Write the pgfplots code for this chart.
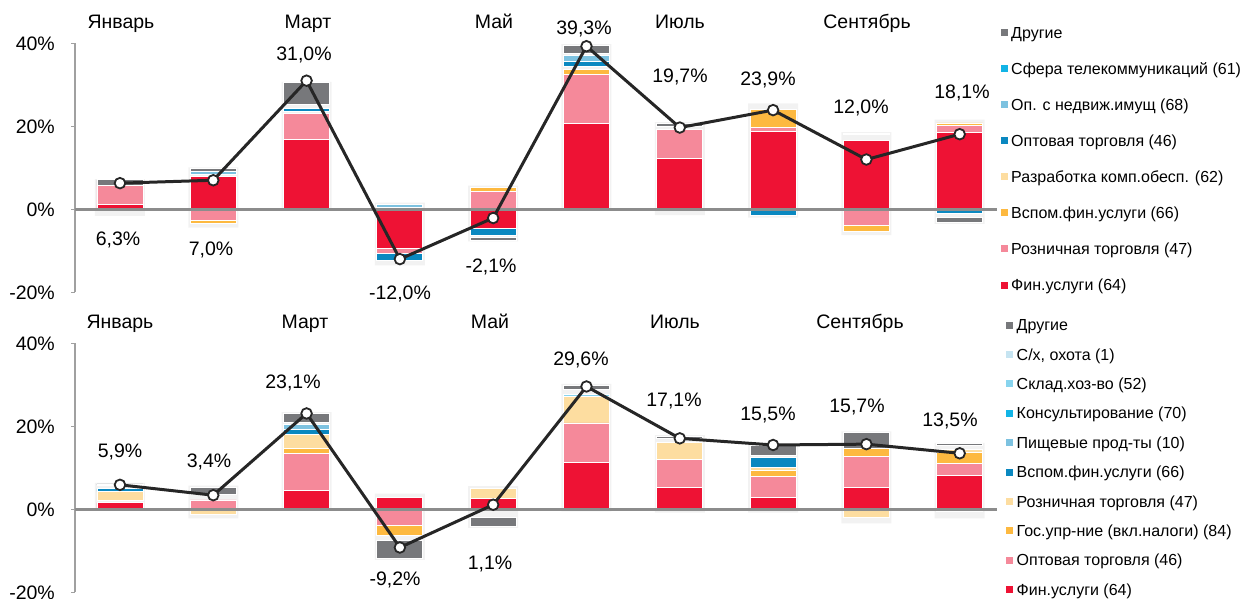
\documentclass[border=0pt]{standalone}
\usepackage{fontspec}
\setmainfont{Liberation Sans}
\usepackage{pgfplots}
\usepackage{pgfplotstable}
\pgfplotsset{compat=1.18}

\definecolor{cFin}{HTML}{EE1234}
\definecolor{cPink}{HTML}{F5899A}
\definecolor{cOrange}{HTML}{FDB940}
\definecolor{cPeach}{HTML}{FDDDA0}
\definecolor{cBlue}{HTML}{0A88C0}
\definecolor{cLBlue}{HTML}{7DC2E0}
\definecolor{cCyan}{HTML}{12B4E6}
\definecolor{cSklad}{HTML}{88D4EE}
\definecolor{cSx}{HTML}{C6E4F1}
\definecolor{cGray}{HTML}{77787B}
\definecolor{cBack}{HTML}{F2F2F2}
\definecolor{cZero}{HTML}{8C8C8C}
\definecolor{cAx}{HTML}{A0A0A0}
\definecolor{cLine}{HTML}{262626}

\newcommand\lblfont{\fontsize{19.5}{22}\selectfont}
\newcommand\legfont{\fontsize{16}{18}\selectfont}

% ---------------- top panel ----------------
\pgfplotstableread{
x fin  ret  vsp  gA   raz  opt  ned  tel  gB   oth
0 1.05 4.7  0    0    0    0    0    0    0    1.35
1 7.9  0    0    0.6  0    0    0.7  0    0    0.55
2 16.8 6.2  0    0.5  0    0.85 0    0    0.8  5.3
3 0    0    0    0.5  0    0    0.7  0    0    0
4 0    4.3  0.9  0    0    0    0    0    0    0
5 20.6 11.8 1.3  0.7  0    1.2  1.5  0    0.4  1.9
6 12.2 7.0  0    0    0    0    0    0    0.7  0.7
7 18.8 1.0  4.2  0    0    0    0    0    0    0
8 16.7 0    0    0    0    0    0    0    1.3  0.3
9 18.4 1.9  0.5  0    0    0    0    0    0    0
}\toppos
\pgfplotstableread{
x fin  ret  vsp  opt  gB    oth
0 0    0    0    0    0     0
1 0    -2.6 -0.9 0    0     0
2 0    0    0    0    0     0
3 -9.5 -1.1 0    -1.8 0     0
4 -4.5 0    0    -1.9 -0.45 -0.55
5 0    0    0    0    0     0
6 0    0    0    0    0     0
7 0    0    0    -1.4 0     0
8 0    -3.8 -1.6 0    0     0
9 0    0    0    -0.9 -1.0  -1.3
}\topneg
\pgfplotstableread{
x top  bot  line
0 7.3  -1.6 6.3
1 10.1 -4.4 7.0
2 30.7 -0.3 31.0
3 1.6  -13.5 -12.0
4 5.7  -7.7 -2.1
5 39.8 -0.3 39.3
6 21.0 -1.4 19.7
7 25.5 -2.0 23.9
8 18.6 -6.2 12.0
9 21.6 -3.5 18.1
}\topmisc

% ---------------- bottom panel ----------------
\pgfplotstableread{
x fin   opt  gos  gA   ret  vsp  pis  kon  skl  sx   gB   oth
0 1.6   0    0    0.6  2.1  0.7  0    0    0    0    0.8  0.3
1 0     2.25 0    0    0    0    0    0    0    0    1.4  1.7
2 4.65  8.85 1.1  0    3.5  1.2  1.1  0    0    0    0.5  2.15
3 2.8   0    0    0    0    0    0    0    0    0    0    0
4 2.7   0    0    0    2.3  0    0    0    0    0    0    0
5 11.25 9.55 0    0    6.3  0    0    0    0.5  0    1.3  0.9
6 5.15  6.9  0    0    4.15 0    0    0    0    0    0.8  0.65
7 2.75  5.25 1.25 0    0.85 2.3  0    0    0    0    0.6  2.4
8 5.15  7.65 1.8  0    0    0    0    0    0    0    0    3.9
9 8.2   2.95 2.65 0    0.6  0    0    0    0    0    0.9  0.45
}\botpos
\pgfplotstableread{
x opt  gos  ret  vsp  gB   oth
0 0    0    0    0    0    0
1 0    0    -1.2 0    0    0
2 0    0    0    0    0    0
3 -4.0 -2.2 0    0    -1.4 -4.3
4 0    0    0    0    -1.9 -2.3
5 0    0    0    0    0    0
6 0    0    0    0    0    0
7 0    0    0    0    0    0
8 0    0    -1.9 0    0    0
9 0    0    0    -0.6 0    0
}\botneg
\pgfplotstableread{
x top  bot   line
0 6.4  -0.3  5.9
1 5.7  -2.2  3.4
2 23.4 -0.3  23.1
3 3.8  -12.2 -9.2
4 5.6  -4.5  1.1
5 30.2 -0.5  29.6
6 17.9 -0.8  17.1
7 15.7 -0.8  15.5
8 18.8 -3.4  15.7
9 16.0 -2.2  13.5
}\botmisc

\pgfplotsset{
  panel/.style={scale only axis, width=922pt, height=249pt,
    xmin=-0.482, xmax=9.4, ymin=-20, ymax=40, clip=false, anchor=south west},
  hid/.style={panel, hide axis},
  seg/.style={fill=#1, draw=white, line width=0.9pt},
  gap/.style={fill=none, draw=none},
  mainax/.style={panel,
    axis x line=none, axis y line*=left,
    y axis line style={draw=cAx, line width=1.3pt, -},
    ytick={-20,0,20,40}, yticklabels={-20\%,0\%,20\%,40\%},
    xtick=\empty,
    tick align=outside, major tick length=4pt,
    tick style={draw=cAx, line width=1.2pt},
    yticklabel style={font=\lblfont, inner sep=0pt, anchor=east, xshift=-16pt},
    extra y ticks={0}, extra y tick labels={},
    extra y tick style={grid=major, major tick length=0pt,
      major grid style={draw=cZero, line width=2.4pt}},
  },
  serline/.style={line width=3pt, cLine, mark=*, mark size=5.3pt,
    mark options={fill=white, draw=cLine, line width=1.8pt, solid}},
}

\newcommand\vlab[3]{\node[anchor=base, inner sep=0pt, font=\lblfont] at (#1pt, -#2pt-7pt) {#3};}
\newcommand\legitem[4]{%
  \fill[#3] (#1pt, -#2pt+3.5pt) rectangle ++(7pt,-7pt);
  \node[anchor=base west, inner sep=0pt, font=\legfont] at (#1pt+10.5pt, -#2pt-5.7pt) {#4};}

\begin{document}
\begin{tikzpicture}
% ======== TOP ========
\begin{axis}[hid, at={(75pt,-292.3pt)}, ybar, bar width=50pt, bar shift=0pt]
  \addplot[fill=cBack, draw=none] table[x=x, y=top] {\topmisc};
  \addplot[fill=cBack, draw=none] table[x=x, y=bot] {\topmisc};
\end{axis}
\begin{axis}[hid, at={(75pt,-292.3pt)}, ybar stacked, bar width=46pt]
  \addplot[seg=cFin]    table[x=x, y=fin] {\toppos};
  \addplot[seg=cPink]   table[x=x, y=ret] {\toppos};
  \addplot[seg=cOrange] table[x=x, y=vsp] {\toppos};
  \addplot[gap]         table[x=x, y=gA]  {\toppos};
  \addplot[seg=cPeach]  table[x=x, y=raz] {\toppos};
  \addplot[seg=cBlue]   table[x=x, y=opt] {\toppos};
  \addplot[seg=cLBlue]  table[x=x, y=ned] {\toppos};
  \addplot[seg=cCyan]   table[x=x, y=tel] {\toppos};
  \addplot[gap]         table[x=x, y=gB]  {\toppos};
  \addplot[seg=cGray]   table[x=x, y=oth] {\toppos};
\end{axis}
\begin{axis}[hid, at={(75pt,-292.3pt)}, ybar stacked, bar width=46pt]
  \addplot[seg=cFin]    table[x=x, y=fin] {\topneg};
  \addplot[seg=cPink]   table[x=x, y=ret] {\topneg};
  \addplot[seg=cOrange] table[x=x, y=vsp] {\topneg};
  \addplot[seg=cBlue]   table[x=x, y=opt] {\topneg};
  \addplot[gap]         table[x=x, y=gB]  {\topneg};
  \addplot[seg=cGray]   table[x=x, y=oth] {\topneg};
\end{axis}
\begin{axis}[mainax, at={(75pt,-292.3pt)}]
  \addplot[serline] table[x=x, y=line] {\topmisc};
\end{axis}

% ======== BOTTOM ========
\begin{axis}[hid, at={(75pt,-592.3pt)}, ybar, bar width=50pt, bar shift=0pt]
  \addplot[fill=cBack, draw=none] table[x=x, y=top] {\botmisc};
  \addplot[fill=cBack, draw=none] table[x=x, y=bot] {\botmisc};
\end{axis}
\begin{axis}[hid, at={(75pt,-592.3pt)}, ybar stacked, bar width=46pt]
  \addplot[seg=cFin]    table[x=x, y=fin] {\botpos};
  \addplot[seg=cPink]   table[x=x, y=opt] {\botpos};
  \addplot[seg=cOrange] table[x=x, y=gos] {\botpos};
  \addplot[gap]         table[x=x, y=gA]  {\botpos};
  \addplot[seg=cPeach]  table[x=x, y=ret] {\botpos};
  \addplot[seg=cBlue]   table[x=x, y=vsp] {\botpos};
  \addplot[seg=cLBlue]  table[x=x, y=pis] {\botpos};
  \addplot[seg=cCyan]   table[x=x, y=kon] {\botpos};
  \addplot[seg=cSklad]  table[x=x, y=skl] {\botpos};
  \addplot[seg=cSx]     table[x=x, y=sx]  {\botpos};
  \addplot[gap]         table[x=x, y=gB]  {\botpos};
  \addplot[seg=cGray]   table[x=x, y=oth] {\botpos};
\end{axis}
\begin{axis}[hid, at={(75pt,-592.3pt)}, ybar stacked, bar width=46pt]
  \addplot[seg=cPink]   table[x=x, y=opt] {\botneg};
  \addplot[seg=cOrange] table[x=x, y=gos] {\botneg};
  \addplot[seg=cPeach]  table[x=x, y=ret] {\botneg};
  \addplot[seg=cBlue]   table[x=x, y=vsp] {\botneg};
  \addplot[gap]         table[x=x, y=gB]  {\botneg};
  \addplot[seg=cGray]   table[x=x, y=oth] {\botneg};
\end{axis}
\begin{axis}[mainax, at={(75pt,-592.3pt)}]
  \addplot[serline] table[x=x, y=line] {\botmisc};
\end{axis}

% ---- month labels ----
\vlab{121}{21}{Январь}
\vlab{308}{21}{Март}
\vlab{494}{21}{Май}
\vlab{680}{21}{Июль}
\vlab{867}{21}{Сентябрь}
\vlab{120}{321}{Январь}
\vlab{305}{321}{Март}
\vlab{490}{321}{Май}
\vlab{675}{321}{Июль}
\vlab{860}{321}{Сентябрь}

% ---- value labels top ----
\vlab{118}{238}{6,3\%}
\vlab{211}{248}{7,0\%}
\vlab{304}{53}{31,0\%}
\vlab{400}{292}{-12,0\%}
\vlab{491}{265}{-2,1\%}
\vlab{584}{27}{39,3\%}
\vlab{680}{75}{19,7\%}
\vlab{768}{78}{23,9\%}
\vlab{861}{106}{12,0\%}
\vlab{962}{91}{18,1\%}
% ---- value labels bottom ----
\vlab{120}{450}{5,9\%}
\vlab{209}{460}{3,4\%}
\vlab{293}{381}{23,1\%}
\vlab{395}{578}{-9,2\%}
\vlab{490}{562}{1,1\%}
\vlab{581}{358}{29,6\%}
\vlab{674}{399}{17,1\%}
\vlab{768}{413}{15,5\%}
\vlab{857}{405}{15,7\%}
\vlab{950}{419}{13,5\%}

% ---- legend top ----
\legitem{1000.5}{32.3}{cGray}{Другие}
\legitem{1000.5}{68.3}{cCyan}{Сфера телекоммуникаций (61)}
\legitem{1000.5}{104.4}{cLBlue}{Оп. с недвиж.имущ (68)}
\legitem{1000.5}{140.5}{cBlue}{Оптовая торговля (46)}
\legitem{1000.5}{176.6}{cPeach}{Разработка комп.обесп. (62)}
\legitem{1000.5}{212.7}{cOrange}{Вспом.фин.услуги (66)}
\legitem{1000.5}{248.8}{cPink}{Розничная торговля (47)}
\legitem{1000.5}{285}{cFin}{Фин.услуги (64)}
% ---- legend bottom ----
\legitem{1006}{325}{cGray}{Другие}
\legitem{1006}{354.4}{cSx}{С/х, охота (1)}
\legitem{1006}{383.8}{cSklad}{Склад.хоз-во (52)}
\legitem{1006}{413.2}{cCyan}{Консультирование (70)}
\legitem{1006}{442.6}{cLBlue}{Пищевые прод-ты (10)}
\legitem{1006}{472}{cBlue}{Вспом.фин.услуги (66)}
\legitem{1006}{501.4}{cPeach}{Розничная торговля (47)}
\legitem{1006}{530.8}{cOrange}{Гос.упр-ние (вкл.налоги) (84)}
\legitem{1006}{560.2}{cPink}{Оптовая торговля (46)}
\legitem{1006}{589.6}{cFin}{Фин.услуги (64)}

\pgfresetboundingbox
\path[use as bounding box] (0,0) rectangle (1247pt,-598pt);
\end{tikzpicture}
\end{document}
